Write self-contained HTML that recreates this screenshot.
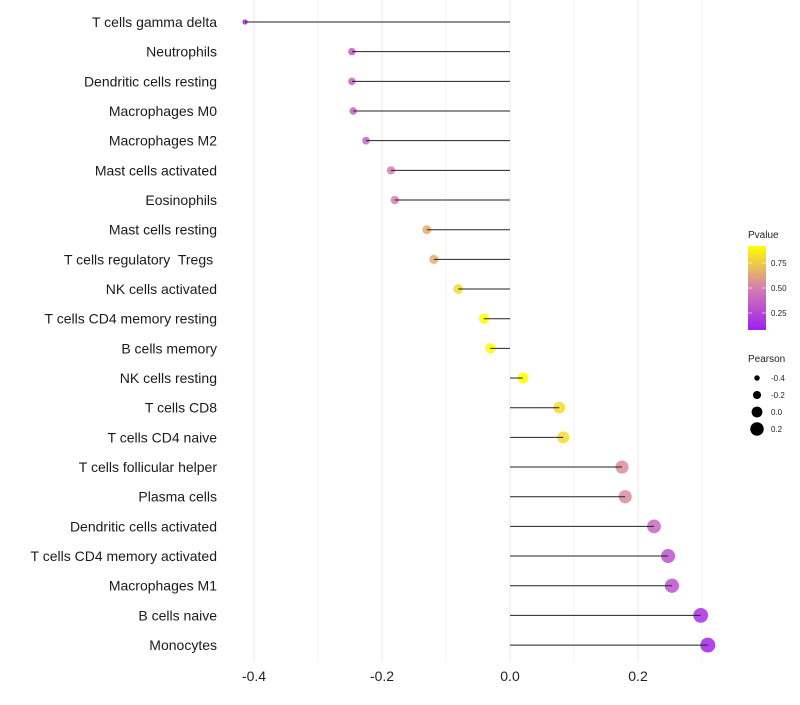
<!DOCTYPE html>
<html><head><meta charset="utf-8"><style>
body{margin:0;background:#fff;font-family:"Liberation Sans",sans-serif}
text{white-space:pre}
</style></head><body>
<svg id="c" width="800" height="700" xmlns="http://www.w3.org/2000/svg"></svg>
<script>
const categories=["T cells gamma delta","Neutrophils","Dendritic cells resting","Macrophages M0","Macrophages M2","Mast cells activated","Eosinophils","Mast cells resting","T cells regulatory  Tregs ","NK cells activated","T cells CD4 memory resting","B cells memory","NK cells resting","T cells CD8","T cells CD4 naive","T cells follicular helper","Plasma cells","Dendritic cells activated","T cells CD4 memory activated","Macrophages M1","B cells naive","Monocytes"];
const pearson=[-0.414,-0.247,-0.247,-0.245,-0.225,-0.186,-0.18,-0.13,-0.119,-0.081,-0.041,-0.031,0.02,0.077,0.083,0.175,0.18,0.225,0.247,0.253,0.298,0.309];
const pvalue=[0.08,0.35,0.37,0.37,0.4,0.5,0.5,0.65,0.65,0.8,0.92,0.92,0.92,0.8,0.8,0.55,0.55,0.4,0.3,0.3,0.15,0.1];
const xTicks=[-0.4,-0.2,0.0,0.2];
const xTickLabels=["-0.4","-0.2","0.0","0.2"];
const xMinor=[-0.3,-0.1,0.1,0.3];
const pvTicks=[0.25,0.5,0.75];
const sizeLegend=[-0.4,-0.2,0.0,0.2];
const NS="http://www.w3.org/2000/svg",svg=document.getElementById("c");
function el(t,a,p){const e=document.createElementNS(NS,t);for(const k in a)e.setAttribute(k,a[k]);(p||svg).appendChild(e);return e;}
const X=v=>510+v*640, Y=i=>22+i*29.67, R=v=>5.4+6.7*v;
function lerp(a,b,t){return a.map((x,i)=>Math.round(x+(b[i]-x)*t));}
function col(p){const s=[[0.08,[160,32,240]],[0.5,[212,127,176]],[0.92,[255,255,0]]];p=Math.max(.08,Math.min(.92,p));
 let c=p<=0.5?lerp(s[0][1],s[1][1],(p-.08)/.42):lerp(s[1][1],s[2][1],(p-.5)/.42);return`rgb(${c})`;}
// grid
xMinor.forEach(v=>{const g=el("line",{x1:X(v),x2:X(v),y1:0,y2:662,stroke:"#f3f3f3","stroke-width":1});
 });
xTicks.forEach(v=>{const g=el("line",{x1:X(v),x2:X(v),y1:0,y2:662,stroke:"#ebebeb","stroke-width":1});
 });
xTicks.forEach((v,i)=>{const t=el("text",{x:X(v),y:681,"text-anchor":"middle","font-size":14,fill:"#222"});t.textContent=xTickLabels[i];
 });
categories.forEach((c,i)=>{
 const t=el("text",{x:217,y:Y(i)+5,"text-anchor":"end","font-size":14,fill:"#1a1a1a"});t.textContent=c;
 
 const pt=el("circle",{cx:X(pearson[i]),cy:Y(i),r:R(pearson[i]),fill:col(pvalue[i]),"fill-opacity":0.85});
 
 const s=el("line",{x1:X(0),x2:X(pearson[i]),y1:Y(i),y2:Y(i),stroke:"#222","stroke-width":1});
 
});
// legend
const lt=el("text",{x:748,y:238,"font-size":10,fill:"#222"});lt.textContent="Pvalue";

const defs=el("defs",{});const lg=el("linearGradient",{id:"g",x1:0,y1:1,x2:0,y2:0},defs);
[0,0.5,1].forEach((o,i)=>el("stop",{offset:o,"stop-color":col(0.08+0.84*o)},lg));
const bar=el("rect",{x:748,y:246,width:18,height:84,fill:"url(#g)"});

pvTicks.forEach(p=>{const y=330-(p-0.08)/0.84*84;
 el("line",{x1:748,x2:752,y1:y,y2:y,stroke:"#fff","stroke-width":0.6});el("line",{x1:762,x2:766,y1:y,y2:y,stroke:"#fff","stroke-width":0.6});
 const t=el("text",{x:771,y:y+3,"font-size":8,fill:"#222"});t.textContent=p.toFixed(2);
 });
const st=el("text",{x:748,y:362,"font-size":10,fill:"#222"});st.textContent="Pearson";

sizeLegend.forEach((v,i)=>{const y=378+i*17;
 const c=el("circle",{cx:757,cy:y,r:R(v),fill:"#000"});
 const t=el("text",{x:771,y:y+3,"font-size":8,fill:"#222"});t.textContent=v.toFixed(1);
 });
</script>
</body></html>
